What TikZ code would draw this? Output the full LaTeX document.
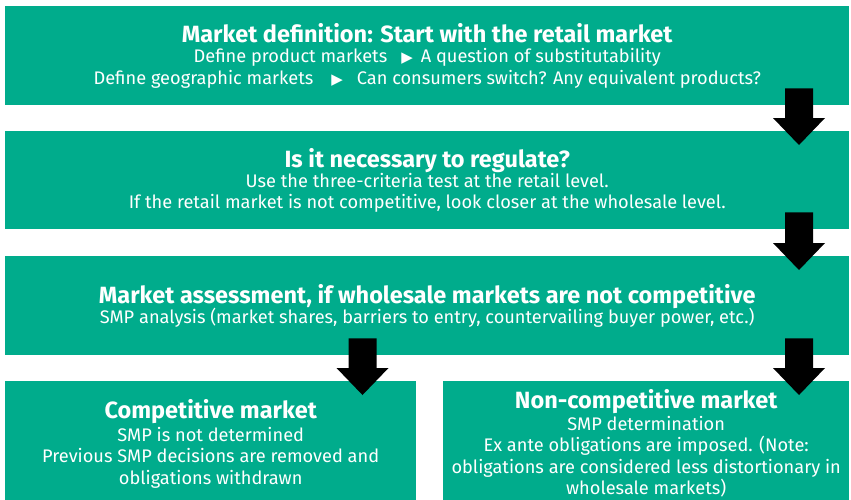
\documentclass[tikz,border=0pt]{standalone}
\usepackage{fontspec}
\setmainfont{Fira Sans}
\newfontfamily\symfont{DejaVu Sans}
\usetikzlibrary{positioning, calc}

\definecolor{boxgreen}{RGB}{0,172,140}
\tikzset{
  stagebox/.style={fill=boxgreen, text=white, align=center, inner sep=0pt,
    anchor=north west, font=\fontsize{18.2}{21.5}\selectfont},
}
\newcommand{\hd}[1]{{\fontsize{23.5}{24}\selectfont\bfseries #1}}
\newcommand{\tri}{{\symfont\fontsize{15}{15}\selectfont ▶}}
% block arrow: from node #1 down to node #2, along column #3
\newcommand{\blockdown}[3]{%
  \fill ([xshift=-14pt, yshift=17pt]#3 |- #1.south) -- ([xshift=14pt, yshift=17pt]#3 |- #1.south)
    -- ([xshift=14pt, yshift=13pt]#3 |- #2.north) -- ([xshift=26pt, yshift=13pt]#3 |- #2.north)
    -- ([yshift=-14pt]#3 |- #2.north) -- ([xshift=-26pt, yshift=13pt]#3 |- #2.north)
    -- ([xshift=-14pt, yshift=13pt]#3 |- #2.north) -- cycle;}

\begin{document}
\begin{tikzpicture}[x=1pt, y=-1pt]
    \useasboundingbox (0,0) rectangle (851,499);

    \node [stagebox, minimum width=844pt, minimum height=99pt] (define) at (5,6)
      {\hd{Market definition: Start with the retail market}\\[-1.5pt]
       Define product markets\hspace{14pt}\tri\hspace{8pt}A question of substitutability\\
       Define geographic markets\hspace{18pt}\tri\hspace{14pt}Can consumers switch? Any equivalent products?};

    \node [stagebox, minimum width=844pt, minimum height=98pt] (need) at (5,131)
      {\hd{Is it necessary to regulate?}\\[-1.5pt]
       Use the three-criteria test at the retail level.\\
       If the retail market is not competitive, look closer at the wholesale level.};

    \node [stagebox, minimum width=844pt, minimum height=99pt] (assess) at (5,256)
      {\hd{Market assessment, if wholesale markets are not competitive}\\[-1.5pt]
       SMP analysis (market shares, barriers to entry, countervailing buyer power, etc.)};

    \node [stagebox, minimum width=411pt, minimum height=125pt] (comp) at (5,381)
      {\hd{Competitive market}\\[1pt]
       SMP is not determined\\
       Previous SMP decisions are removed and\\
       obligations withdrawn};

    \node [stagebox, minimum width=406pt, minimum height=125pt] (noncomp) at (443,381)
      {\hd{Non-competitive market}\\
       SMP determination\\
       Ex ante obligations are imposed. (Note:\\
       obligations are considered less distortionary in\\
       wholesale markets)};

    % arrow columns
    \coordinate (rcol) at (799,0);
    \coordinate (lcol) at (362.5,0);

    \blockdown{define}{need}{rcol}
    \blockdown{need}{assess}{rcol}
    \blockdown{assess}{comp}{lcol}
    \blockdown{assess}{noncomp}{rcol}

\end{tikzpicture}
\end{document}
